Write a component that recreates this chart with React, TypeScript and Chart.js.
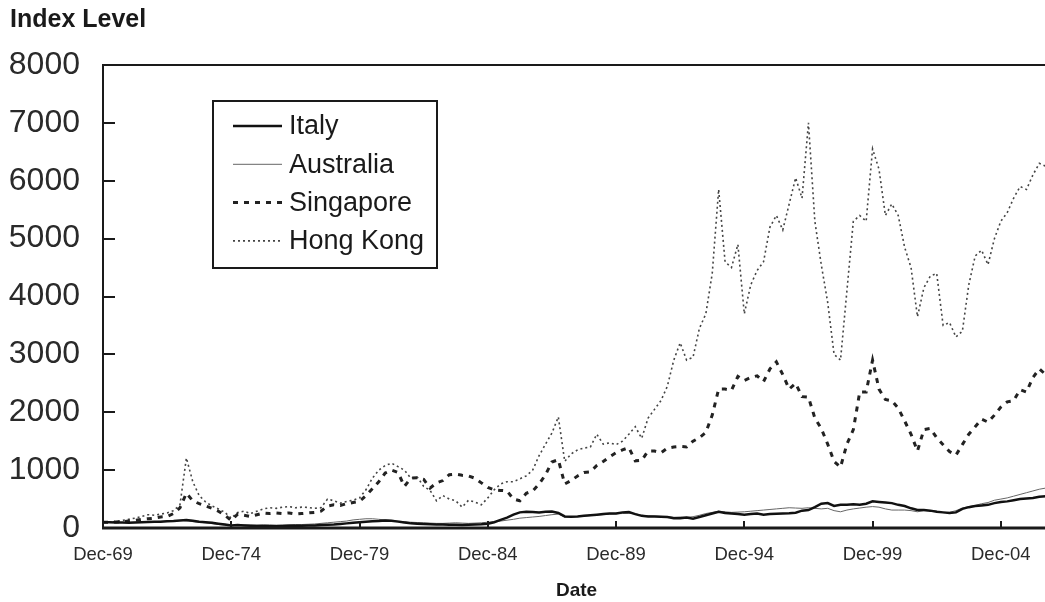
import React, { useEffect, useRef } from "react";
import { Chart, registerables } from "chart.js";

Chart.register(...registerables);

// ---------- data (quarterly index levels, Dec-69 = 100) ----------
const seriesNames = ["Italy", "Australia", "Singapore", "Hong Kong"];
const monthsPerPoint = 3;
const tickMonths = [0, 60, 120, 180, 240, 300, 360, 420];
const tickLabels = ["Dec-69", "Dec-74", "Dec-79", "Dec-84", "Dec-89", "Dec-94", "Dec-99", "Dec-04"];
const yTickValues = [0, 1000, 2000, 3000, 4000, 5000, 6000, 7000, 8000];

const italy = [
  100, 100, 95, 95, 90, 95, 100, 105, 110, 110,
  115, 120, 130, 140, 125, 110, 100, 90, 75, 60,
  45, 50, 45, 40, 35, 35, 30, 30, 35, 40,
  40, 40, 45, 45, 50, 55, 60, 70, 80, 90,
  100, 110, 115, 120, 130, 125, 110, 95, 80, 75,
  70, 65, 60, 60, 55, 55, 50, 55, 60, 65,
  75, 100, 140, 180, 230, 270, 280, 275, 270, 280,
  285, 260, 200, 195, 200, 210, 220, 230, 240, 250,
  250, 270, 275, 240, 210, 200, 200, 195, 190, 170,
  170, 180, 160, 190, 220, 250, 280, 260, 250, 240,
  230, 240, 250, 230, 240, 245, 250, 255, 265, 300,
  310, 360, 420, 430, 380, 400, 400, 410, 400, 420,
  460, 450, 440, 430, 400, 380, 340, 310, 310, 300,
  280, 270, 260, 270, 330, 360, 380, 390, 400, 430,
  450, 460, 480, 500, 510, 520, 540, 550,
];

const australia = [
  100, 100, 95, 95, 95, 100, 100, 105, 110, 115,
  120, 125, 130, 125, 110, 100, 90, 75, 60, 50,
  40, 50, 55, 50, 50, 55, 55, 50, 50, 55,
  60, 60, 65, 70, 80, 90, 100, 110, 120, 140,
  150, 160, 160, 150, 140, 130, 120, 110, 100, 95,
  90, 85, 80, 80, 85, 90, 85, 80, 85, 90,
  100, 110, 120, 135, 150, 170, 180, 190, 200, 215,
  230, 240, 190, 195, 200, 205, 215, 225, 230, 240,
  245, 250, 255, 245, 220, 210, 205, 200, 195, 185,
  190, 185, 195, 220, 250, 270, 290, 280, 270, 275,
  280, 290, 300, 310, 320, 330, 340, 350, 345, 340,
  350, 340, 330, 340, 300, 280, 310, 330, 345, 360,
  370, 360, 330, 310, 310, 310, 300, 280, 300, 300,
  290, 265, 270, 300, 345, 370, 390, 420, 440, 480,
  500, 520, 550, 580, 610, 640, 670, 690,
];

const singapore = [
  100, 100, 105, 110, 120, 130, 150, 160, 170, 190,
  200, 250, 350, 600, 470, 420, 380, 340, 290, 220,
  130, 240, 220, 200, 230, 260, 250, 260, 250, 260,
  240, 250, 260, 270, 290, 380, 400, 390, 420, 440,
  460, 560, 680, 800, 950, 1000, 960, 720, 860, 870,
  840, 690, 780, 820, 920, 930, 910, 900, 860, 780,
  700, 660, 650, 640, 500, 470, 600, 640, 760, 920,
  1140, 1180, 760, 820, 900, 960, 970, 1080, 1150, 1230,
  1300, 1350, 1390, 1160, 1170, 1330, 1330, 1300, 1380, 1400,
  1410, 1400, 1500, 1560, 1650, 1950, 2400, 2400, 2380, 2620,
  2550, 2600, 2630, 2530, 2750, 2870, 2650, 2400, 2500, 2270,
  2260, 1900, 1720, 1450, 1150, 1050, 1450, 1700, 2350, 2350,
  2900, 2400, 2220, 2200, 2070, 1850, 1620, 1330, 1700, 1720,
  1560, 1440, 1320, 1260, 1440, 1620, 1750, 1880, 1830, 1950,
  2090, 2180, 2200, 2390, 2350, 2600, 2750, 2650,
];

const hongKong = [
  100, 105, 110, 130, 150, 170, 200, 230, 220, 240,
  260, 300, 400, 1210, 800, 560, 450, 380, 330, 270,
  170, 270, 290, 250, 290, 330, 350, 340, 360, 370,
  350, 360, 355, 340, 350, 500, 470, 430, 460, 480,
  520, 660, 860, 1000, 1080, 1120, 1060, 1000, 860, 880,
  720, 650, 470, 560, 500, 470, 360, 480, 450, 400,
  520, 660, 760, 800, 800, 850, 900, 1000, 1250, 1450,
  1640, 1920, 1150, 1280, 1350, 1380, 1400, 1620, 1450, 1470,
  1440, 1500, 1620, 1750, 1550, 1900, 2050, 2200, 2450, 2900,
  3200, 2900, 2950, 3450, 3700, 4400, 5850, 4600, 4500, 4900,
  3700, 4200, 4450, 4600, 5200, 5400, 5150, 5600, 6050, 5700,
  7000, 5300, 4550, 3900, 3000, 2900, 4100, 5300, 5400, 5300,
  6550, 6200, 5400, 5600, 5400, 4850, 4500, 3650, 4150, 4350,
  4400, 3500, 3550, 3300, 3400, 4200, 4700, 4800, 4550, 5000,
  5300, 5450, 5700, 5900, 5850, 6100, 6300, 6250,
];

// ---------- styling ----------
const FONT = "'Liberation Sans', Arial, Helvetica, sans-serif";
const INK = "#1a1a1a";

const toPoints = (vals: number[]) => vals.map((v, i) => ({ x: i * monthsPerPoint, y: v }));

const decorPlugin = {
  id: "decor",
  afterDraw(chart: any) {
    const { ctx, chartArea: a, scales } = chart;
    const xs = scales.x;
    const ys = scales.y;
    ctx.save();
    // frame
    ctx.strokeStyle = INK;
    ctx.lineWidth = 2;
    ctx.setLineDash([]);
    ctx.strokeRect(a.left, a.top, a.right - a.left, a.bottom - a.top);
    ctx.lineWidth = 3;
    ctx.beginPath();
    ctx.moveTo(a.left - 1, a.bottom);
    ctx.lineTo(a.right, a.bottom);
    ctx.stroke();
    // inside tick marks
    ctx.lineWidth = 2;
    ctx.beginPath();
    yTickValues.forEach((v) => {
      const y = Math.round(ys.getPixelForValue(v));
      ctx.moveTo(a.left, y);
      ctx.lineTo(a.left + 12, y);
    });
    tickMonths.forEach((m) => {
      const x = Math.round(xs.getPixelForValue(m));
      ctx.moveTo(x, a.bottom);
      ctx.lineTo(x, a.bottom - 7);
    });
    ctx.stroke();

    // axis title (top-left)
    ctx.fillStyle = INK;
    ctx.font = `bold 25px ${FONT}`;
    ctx.textBaseline = "alphabetic";
    ctx.textAlign = "left";
    ctx.fillText("Index Level", 10, 27);

    // legend box
    const bx = 213, by = 101, bw = 224, bh = 167;
    ctx.fillStyle = "#fff";
    ctx.fillRect(bx, by, bw, bh);
    ctx.strokeStyle = INK;
    ctx.lineWidth = 2;
    ctx.strokeRect(bx, by, bw, bh);
    chart.data.datasets.forEach((ds: any, i: number) => {
      const y = by + 25 + i * 38.3;
      ctx.beginPath();
      ctx.setLineDash(ds.borderDash || []);
      ctx.lineWidth = ds.borderWidth;
      ctx.strokeStyle = ds.borderColor;
      ctx.moveTo(233, y);
      ctx.lineTo(282, y);
      ctx.stroke();
      ctx.setLineDash([]);
      ctx.fillStyle = INK;
      ctx.font = `27px ${FONT}`;
      ctx.textBaseline = "middle";
      ctx.fillText(ds.label, 289, y + 1);
    });
    ctx.restore();
  },
};

export default function App() {
  const canvasRef = useRef<HTMLCanvasElement | null>(null);

  useEffect(() => {
    if (!canvasRef.current) return;
    Chart.defaults.font.family = FONT;
    Chart.defaults.color = "#222";
    const chart = new Chart(canvasRef.current, {
      type: "line",
      data: {
        datasets: [
          {
            label: seriesNames[0],
            data: toPoints(italy),
            borderColor: "#111",
            borderWidth: 2.5,
            pointRadius: 0,
            tension: 0,
          },
          {
            label: seriesNames[1],
            data: toPoints(australia),
            borderColor: "#666",
            borderWidth: 1,
            pointRadius: 0,
            tension: 0,
          },
          {
            label: seriesNames[2],
            data: toPoints(singapore),
            borderColor: "#222",
            borderWidth: 3,
            borderDash: [5, 6],
            pointRadius: 0,
            tension: 0,
          },
          {
            label: seriesNames[3],
            data: toPoints(hongKong),
            borderColor: "#444",
            borderWidth: 1.6,
            borderDash: [2, 3],
            pointRadius: 0,
            tension: 0,
          },
        ],
      },
      options: {
        animation: false,
        responsive: false,
        parsing: false as any,
        layout: { padding: { top: 65, right: 10, left: 0, bottom: 0 } },
        plugins: { legend: { display: false }, title: { display: false }, tooltip: { enabled: false } },
        scales: {
          x: {
            type: "linear",
            min: 0,
            max: 443,
            grid: { display: false, drawTicks: false },
            border: { display: false },
            afterBuildTicks: (s: any) => {
              s.ticks = tickMonths.map((v) => ({ value: v }));
            },
            afterFit: (s: any) => {
              s.height = 74;
            },
            ticks: {
              autoSkip: false,
              maxRotation: 0,
              padding: 16,
              font: { size: 18.5 },
              color: "#2a2a2a",
              callback: (v: any) => {
                const i = tickMonths.indexOf(Number(v));
                return i >= 0 ? tickLabels[i] : "";
              },
            },
            title: {
              display: true,
              text: "Date",
              color: INK,
              font: { size: 19, weight: "bold" },
              padding: { top: 0, bottom: 0 },
            },
          },
          y: {
            min: 0,
            max: 8000,
            grid: { display: false, drawTicks: false },
            border: { display: false },
            afterFit: (s: any) => {
              s.width = 103;
            },
            ticks: {
              stepSize: 1000,
              padding: 23,
              font: { size: 32 },
              color: "#2a2a2a",
              callback: (v: any) => String(v),
            },
          },
        },
      },
      plugins: [decorPlugin],
    });
    return () => chart.destroy();
  }, []);

  return (
    <div
      style={{
        position: "fixed",
        left: 0,
        top: 0,
        width: 1045,
        height: 602,
        overflow: "hidden",
        background: "#fff",
      }}
    >
      <canvas ref={canvasRef} width={1060} height={602} style={{ display: "block" }} />
    </div>
  );
}
